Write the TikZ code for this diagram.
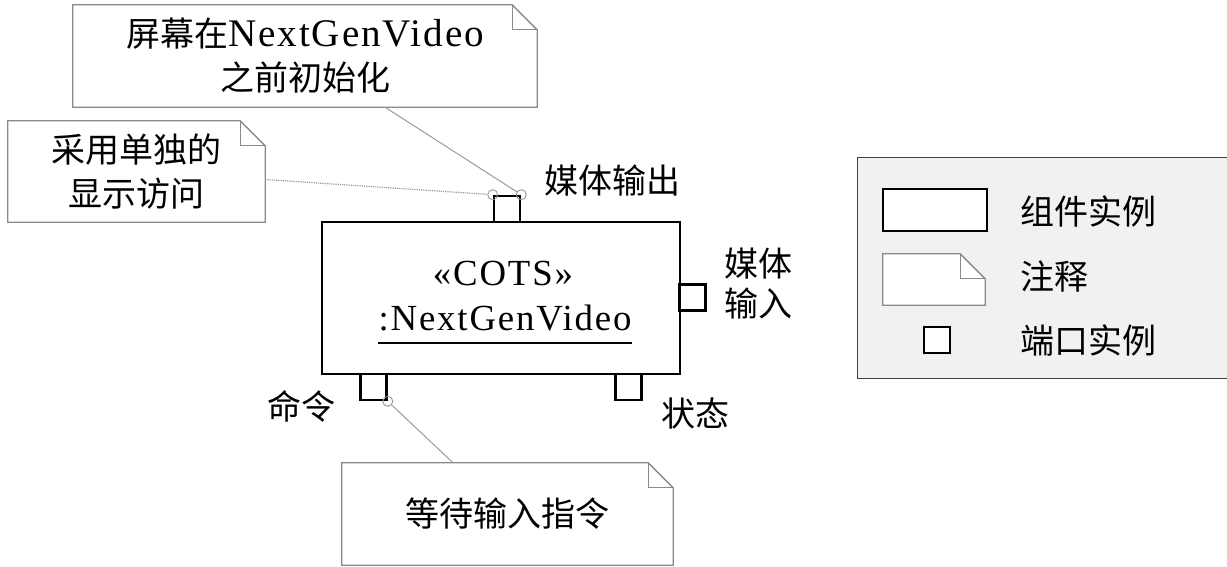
\documentclass[tikz,border=0pt]{standalone}
\usepackage{fontspec}
\setmainfont{Noto Sans CJK SC}
\newfontfamily\lat{Liberation Serif}[Scale=1.15,LetterSpace=5]
\usetikzlibrary{calc}
\definecolor{notegray}{HTML}{8A8A8A}
\definecolor{linkgray}{HTML}{9A9A9A}
\definecolor{legfill}{HTML}{F1F1F1}
\tikzset{
  notebox/.style={draw=none, inner sep=0pt, align=center, font=\fontsize{34}{44}\selectfont},
  notefrm/.style={draw=notegray, line width=1.3pt, line join=miter},
  comp/.style={draw=black, line width=2.8pt, inner sep=0pt},
  portbox/.style={draw=black, line width=2.6pt, fill=white, minimum width=26pt, minimum height=26pt, inner sep=0pt},
  circ/.style={circle, draw=linkgray, line width=0.9pt, minimum size=10pt, inner sep=0pt},
  link/.style={draw=linkgray, line width=1pt},
  dotlink/.style={draw=linkgray, line width=1.2pt, densely dotted},
  lbl/.style={inner sep=0pt, align=center, font=\fontsize{34}{40}\selectfont},
  comptxt/.style={inner sep=0pt, font=\fontsize{32}{38}\selectfont\lat}
}
\newcommand\dogear[2][]{%
  \draw[notefrm,#1] (#2.south west) -- (#2.north west) -- ([xshift=-25pt]#2.north east)
    -- ([yshift=-25pt]#2.north east) -- (#2.south east) -- cycle;
  \draw[notefrm] ([xshift=-25pt]#2.north east) |- ([yshift=-25pt]#2.north east);}
\begin{document}
\begin{tikzpicture}[x=1pt,y=-1pt]
\useasboundingbox (0,0) rectangle (1227,567);

% notes
\node[notebox, minimum width=464pt, minimum height=102pt] (n1) at (305,56)
  {屏幕在{\lat NextGenVideo}\\之前初始化};
\dogear{n1}
\node[notebox, minimum width=257pt, minimum height=101pt] (n2) at (136.5,171.5)
  {采用单独的\\显示访问};
\dogear{n2}
\node[notebox, minimum width=331pt, minimum height=102pt] (n3) at (507.5,514)
  {等待输入指令};
\dogear{n3}

% component
\node[comp, minimum width=358pt, minimum height=152pt] (cmp) at (501,298) {};
\node[comptxt] (cots) at (503,273) {«COTS»};
\node[comptxt, anchor=base] (cname) at (505,330) {:NextGenVideo};
\draw[line width=1.6pt] ([yshift=-13pt]cname.base west) -- ([yshift=-13pt]cname.base east);

% ports
\node[portbox] (ptop) at (507,209) {};
\node[portbox] (pright) at (692.5,297.5) {};
\node[portbox] (pbl) at (373.5,387) {};
\node[portbox] (pbr) at (628.5,387) {};

% port labels
\node[lbl] (lout) at (612,181) {媒体输出};
\node[lbl] (lin) at (758,284) {媒体\\输入};
\node[lbl] (lcmd) at (301,406) {命令};
\node[lbl] (lstat) at (695,413) {状态};

% anchor circles
\node[circ] (c1) at (ptop.north west) {};
\node[circ] (c2) at (ptop.north east) {};
\node[circ] (c3) at (pbl.south east) {};

% connectors
\draw[link] ([xshift=80pt]n1.south) -- (c2);
\draw[dotlink] ([yshift=-8pt]n2.east) -- (c1);
\draw[link] (c3) -- ([xshift=-54.5pt]n3.north);

% legend
\node[fill=legfill, draw=none, inner sep=0pt, minimum width=369pt, minimum height=220pt] (leg) at (1042.5,268) {};
\draw[draw=black!75, line width=1.3pt] (leg.north east) -- (leg.north west) -- (leg.south west) -- (leg.south east);
\node[comp, fill=white, minimum width=104pt, minimum height=42pt] (lgcomp) at (935,210) {};
\node[lbl, anchor=west] (tcomp) at (1020,211) {组件实例};
\node[inner sep=0pt, minimum width=102pt, minimum height=51pt] (lgnote) at (934,279.5) {};
\dogear[fill=white]{lgnote}
\node[lbl, anchor=west] (tnote) at (1020,277) {注释};
\node[portbox] (lgport) at (937,340) {};
\node[lbl, anchor=west] (tport) at (1020,340) {端口实例};
\end{tikzpicture}
\end{document}
